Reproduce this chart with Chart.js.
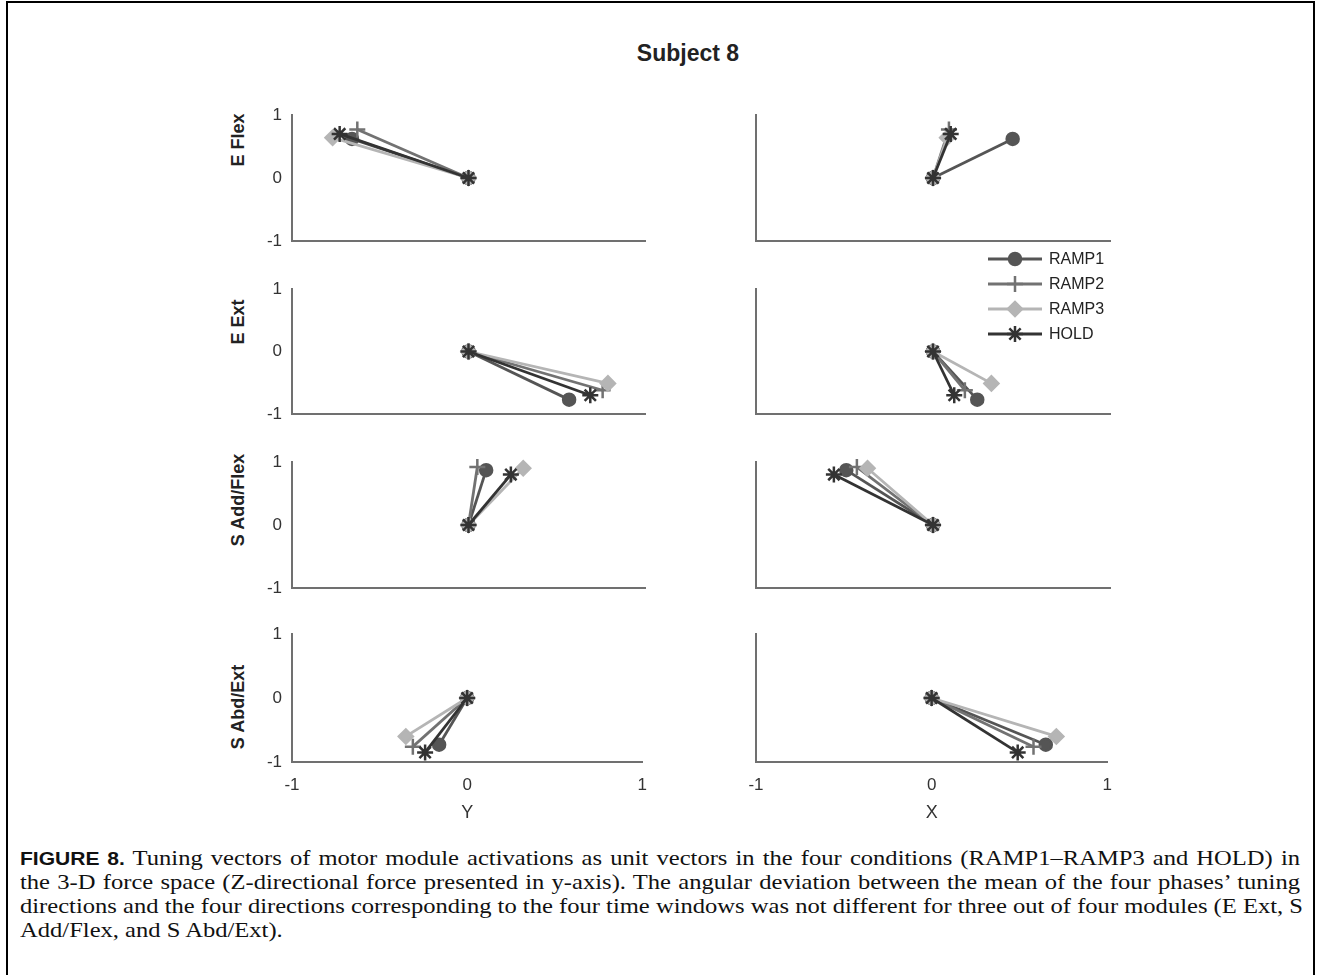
<!DOCTYPE html>
<html>
<head>
<meta charset="utf-8">
<script src="https://cdn.jsdelivr.net/npm/chart.js@4.4.1/dist/chart.umd.min.js"></script>
<style>
body { margin: 0; background: #fff; width: 1321px; height: 975px; position: relative; overflow: hidden; font-family: "Liberation Sans", Arial, sans-serif; }
#frame { position: absolute; left: 6px; top: 1px; width: 1305px; height: 1000px; border: 2px solid #000; }
canvas { position: absolute; }
#title { position: absolute; left: 688px; top: 53px; transform: translate(-50%, -50%); font-weight: bold; font-size: 23px; color: #222; white-space: nowrap; }
.rowlab { position: absolute; font-weight: bold; font-size: 18px; color: #222; transform: translate(-50%, -50%) rotate(-90deg); white-space: nowrap; }
#caption { position: absolute; left: 20px; top: 846px; width: 1094px; transform: scaleX(1.17); transform-origin: 0 0; }
.cap { height: 24px; line-height: 24px; font-family: "Liberation Serif", "Times New Roman", serif; font-size: 21px; color: #111; text-align: justify; text-align-last: justify; white-space: nowrap; }
.cap.last { text-align-last: left; }
.cap b { font-family: "Liberation Sans", Arial, sans-serif; font-size: 18px; }
</style>
</head>
<body>
<div id="frame"></div>
<div id="title">Subject 8</div>

<div id="caption">
<div class="cap"><b>FIGURE 8.</b> Tuning vectors of motor module activations as unit vectors in the four conditions (RAMP1–RAMP3 and HOLD) in</div>
<div class="cap">the 3-D force space (Z-directional force presented in y-axis). The angular deviation between the mean of the four phases’ tuning</div>
<div class="cap">directions and the four directions corresponding to the four time windows was not different for three out of four modules (E Ext, S</div>
<div class="cap last">Add/Flex, and S Abd/Ext).</div>
</div>

<script>
const conditions = ['RAMP1', 'RAMP2', 'RAMP3', 'HOLD'];
const modules = ['E Flex', 'E Ext', 'S Add/Flex', 'S Abd/Ext'];
const columnAxes = ['Y', 'X'];
const axisTicks = [-1, 0, 1];

// tuning vector components, order RAMP1, RAMP2, RAMP3, HOLD
// z = vertical axis of every panel, y = left column, x = right column
const zEFlex = [0.62, 0.77, 0.64, 0.70];
const yEFlex = [-0.66, -0.63, -0.77, -0.73];
const xEFlex = [0.45, 0.09, 0.08, 0.10];

const zEExt = [-0.77, -0.62, -0.51, -0.70];
const yEExt = [0.57, 0.76, 0.79, 0.69];
const xEExt = [0.25, 0.18, 0.33, 0.12];

const zSAddFlex = [0.87, 0.92, 0.90, 0.80];
const ySAddFlex = [0.10, 0.05, 0.31, 0.24];
const xSAddFlex = [-0.49, -0.43, -0.37, -0.56];

const zSAbdExt = [-0.73, -0.76, -0.60, -0.85];
const ySAbdExt = [-0.16, -0.31, -0.35, -0.24];
const xSAbdExt = [0.65, 0.58, 0.71, 0.49];

const zRows = [zEFlex, zEExt, zSAddFlex, zSAbdExt];
const hRows = [[yEFlex, xEFlex], [yEExt, xEExt], [ySAddFlex, xSAddFlex], [ySAbdExt, xSAbdExt]];

// styles
const lineColors = ['#555555', '#727272', '#b5b5b5', '#333333'];
const pointStyles = ['circle', 'cross', 'rectRot', 'star'];
const pointRadii = [6, 8, 7, 8];
const axisColor = '#707070';
const textColor = '#333';
const tickFont = { family: '"Liberation Sans", Arial, sans-serif', size: 17 };

// layout (pixels)
const colLeft = [190, 700];
const colWidth = [470, 425];
const yAxisWidth = [102, 56];
const rightPad = 15;
const plotTop = [115, 289, 462, 634];
const plotBottom = [241, 414, 588, 762];
const rowLabelY = [140, 322, 500, 707];
const rowLabelX = 238;

const legendPlugin = {
  id: 'condLegend',
  afterDraw(chart) {
    const ctx = chart.ctx;
    const a = chart.chartArea;
    const x0 = a.right - 122, x1 = x0 + 54, tx = x1 + 7;
    ctx.save();
    conditions.forEach((c, i) => {
      const y = a.top - 30 + i * 25;
      ctx.strokeStyle = lineColors[i];
      ctx.fillStyle = lineColors[i];
      ctx.lineWidth = 2.8;
      ctx.beginPath();
      ctx.moveTo(x0, y);
      ctx.lineTo(x1, y);
      ctx.stroke();
      ctx.lineWidth = 2.5;
      Chart.helpers.drawPoint(ctx, { pointStyle: pointStyles[i], radius: pointRadii[i], rotation: 0, borderWidth: 2.5 }, (x0 + x1) / 2, y);
      ctx.fillStyle = '#222';
      ctx.font = '16px "Liberation Sans", Arial, sans-serif';
      ctx.textBaseline = 'middle';
      ctx.textAlign = 'left';
      ctx.fillText(c, tx, y + 1);
    });
    ctx.restore();
  }
};

function makePanel(row, col) {
  const bottomRow = row === modules.length - 1;
  const legendHere = row === 1 && col === 1;
  const topPad = legendHere ? 75 : 25;
  const xHeight = bottomRow ? 64 : 25;
  const height = plotBottom[row] - plotTop[row] + topPad + xHeight;

  const canvas = document.createElement('canvas');
  canvas.width = colWidth[col];
  canvas.height = height;
  canvas.style.left = colLeft[col] + 'px';
  canvas.style.top = (plotTop[row] - topPad) + 'px';
  canvas.style.width = colWidth[col] + 'px';
  canvas.style.height = height + 'px';
  document.body.appendChild(canvas);

  const zs = zRows[row];
  const hs = hRows[row][col];
  const datasets = conditions.map((c, i) => ({
    label: c,
    data: [{ x: 0, y: 0 }, { x: hs[i], y: zs[i] }],
    borderColor: lineColors[i],
    backgroundColor: lineColors[i],
    borderWidth: 2.8,
    pointStyle: pointStyles[i],
    pointRadius: pointRadii[i],
    pointBorderWidth: 2.5,
    pointBackgroundColor: lineColors[i],
    pointBorderColor: lineColors[i],
    showLine: true,
    order: conditions.length - i,
    clip: false
  }));

  new Chart(canvas, {
    type: 'scatter',
    data: { datasets },
    options: {
      responsive: false,
      animation: false,
      events: [],
      layout: { padding: { top: topPad, right: rightPad, bottom: 0, left: 0 } },
      plugins: { legend: { display: false }, tooltip: { enabled: false } },
      scales: {
        x: {
          type: 'linear',
          min: -1, max: 1,
          afterBuildTicks: s => { s.ticks = axisTicks.map(v => ({ value: v })); },
          afterFit: s => { s.height = xHeight; },
          grid: { display: false, drawTicks: false },
          border: { display: true, color: axisColor, width: 2 },
          ticks: { display: bottomRow, padding: 13, color: textColor, font: tickFont },
          title: {
            display: bottomRow,
            text: columnAxes[col],
            color: textColor,
            padding: { top: 0, bottom: 2 },
            font: { family: '"Liberation Sans", Arial, sans-serif', size: 18 }
          }
        },
        y: {
          type: 'linear',
          min: -1, max: 1,
          afterBuildTicks: s => { s.ticks = axisTicks.map(v => ({ value: v })); },
          afterFit: s => { s.width = yAxisWidth[col]; },
          grid: { display: false, drawTicks: false },
          border: { display: true, color: axisColor, width: 2 },
          ticks: { display: col === 0, padding: 10, color: textColor, font: tickFont }
        }
      }
    },
    plugins: legendHere ? [legendPlugin] : []
  });
}

modules.forEach((m, row) => {
  const lab = document.createElement('div');
  lab.className = 'rowlab';
  lab.textContent = m;
  lab.style.left = rowLabelX + 'px';
  lab.style.top = rowLabelY[row] + 'px';
  document.body.appendChild(lab);
  columnAxes.forEach((a, col) => makePanel(row, col));
});
</script>
</body>
</html>
